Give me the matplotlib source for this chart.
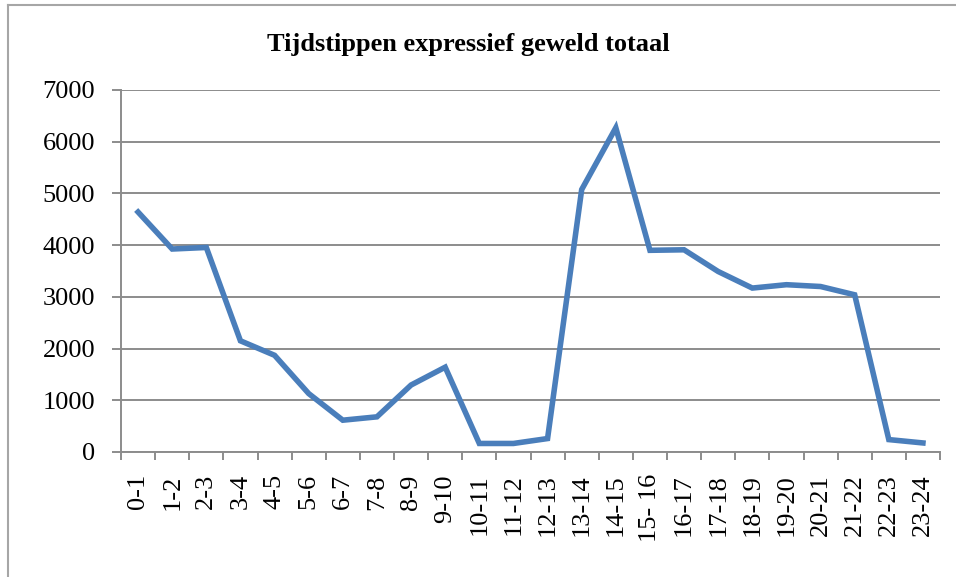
import matplotlib
matplotlib.use("Agg")
import matplotlib.pyplot as plt
from matplotlib.lines import Line2D
from matplotlib.ticker import FixedLocator

# data
hours = ['0-1', '1-2', '2-3', '3-4', '4-5', '5-6', '6-7', '7-8', '8-9', '9-10',
         '10-11', '11-12', '12-13', '13-14', '14-15', '15- 16', '16-17', '17-18',
         '18-19', '19-20', '20-21', '21-22', '22-23', '23-24']
counts = [4640, 3925, 3955, 2150, 1870, 1130, 615, 680, 1295, 1640,
          165, 165, 260, 5075, 6270, 3900, 3910, 3490,
          3170, 3235, 3200, 3040, 240, 175]
y_ticks = [0, 1000, 2000, 3000, 4000, 5000, 6000, 7000]

grid_col = '#8c8c8c'
line_col = '#4a7ebb'
serif = 'Liberation Serif'

W, H = 956, 577
fig = plt.figure(figsize=(W / 100, H / 100), dpi=100)
ax = fig.add_axes([121 / W, 1 - 452 / H, (940 - 121) / W, (452 - 90) / H])

x = list(range(len(hours)))
ax.plot(x, counts, color=line_col, linewidth=4, solid_joinstyle='miter')

ax.set_xlim(-0.5, len(hours) - 0.5)
ax.set_ylim(0, 7000)
ax.set_yticks(y_ticks)
ax.set_yticklabels([str(v) for v in y_ticks], fontfamily=serif, fontsize=19)
ax.yaxis.grid(True, color=grid_col, linewidth=1.4)
ax.set_axisbelow(True)

ax.set_xticks(x)
ax.set_xticklabels(hours, rotation=90, fontfamily=serif, fontsize=19)
ax.xaxis.set_minor_locator(FixedLocator([i - 0.5 for i in range(len(hours) + 1)]))
ax.tick_params(axis='x', which='major', length=0, pad=16)
ax.tick_params(axis='x', which='minor', length=6, color=grid_col, width=1.4)
ax.tick_params(axis='y', length=6.5, color=grid_col, width=1.4, pad=12)

for side in ['top', 'right']:
    ax.spines[side].set_visible(False)
for side in ['left', 'bottom']:
    ax.spines[side].set_color(grid_col)
    ax.spines[side].set_linewidth(1.4)

fig.text(468 / W, 1 - 45 / H, 'Tijdstippen expressief geweld totaal',
         ha='center', va='center', fontfamily=serif,
         fontweight='bold', fontsize=19)

# frame edges visible in the screenshot (top and left only)
fig.lines.append(Line2D([8 / W, 1.0], [1 - 5 / H, 1 - 5 / H], transform=fig.transFigure,
                        color='#a6a6a6', linewidth=1.5))
fig.lines.append(Line2D([8 / W, 8 / W], [0.0, 1 - 5 / H], transform=fig.transFigure,
                        color='#a6a6a6', linewidth=1.5))

fig.savefig('out.png', dpi=100)
